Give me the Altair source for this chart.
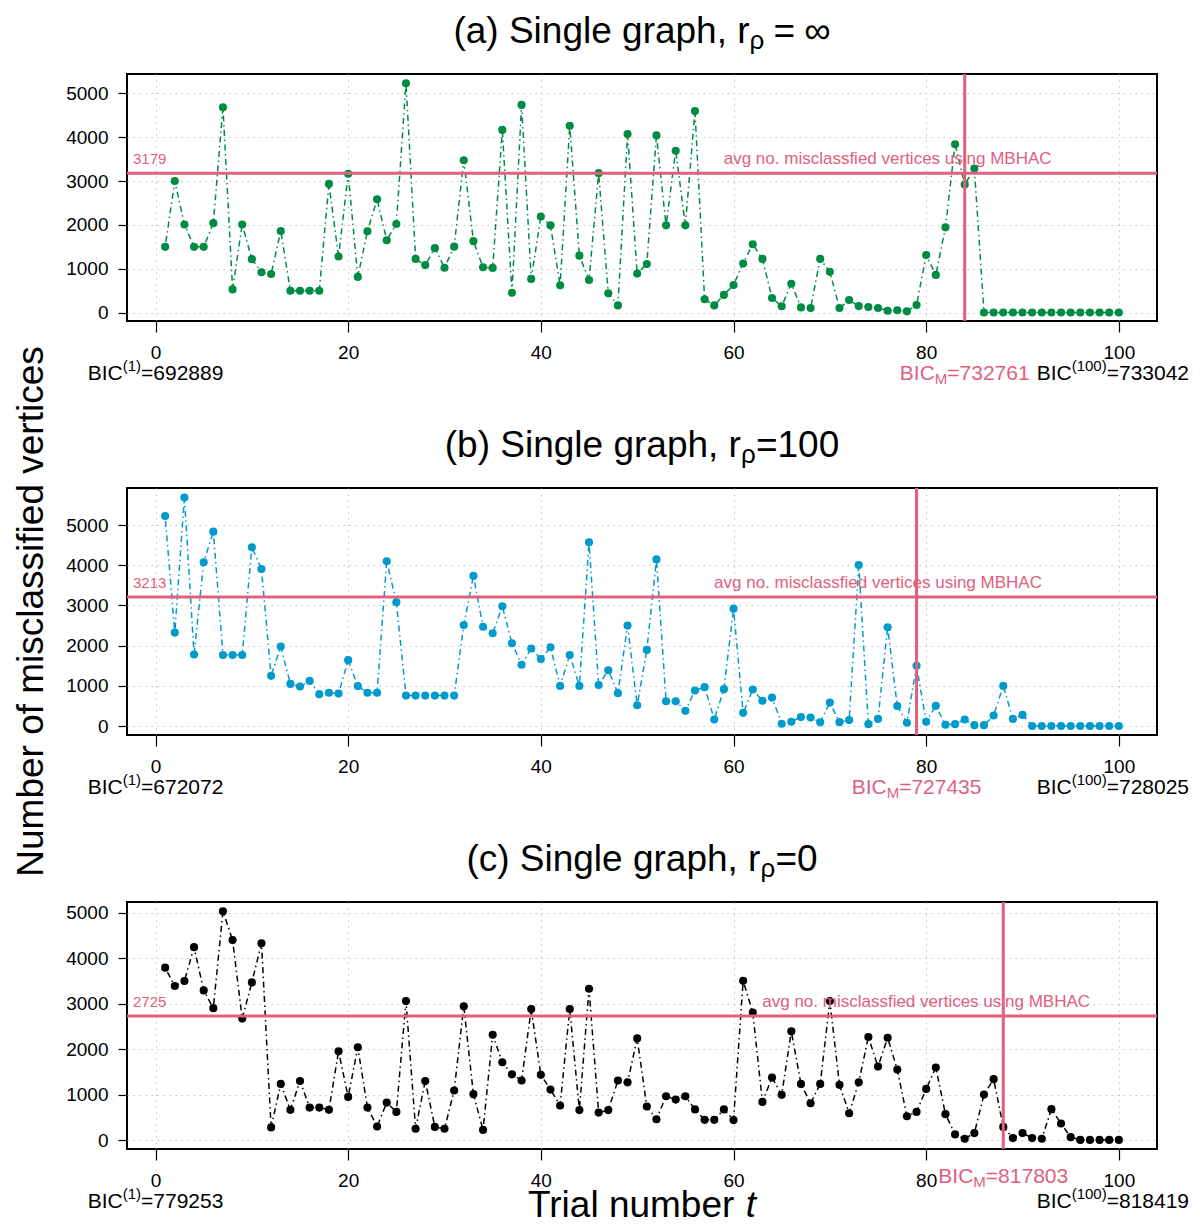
import altair as alt
import pandas as pd

# ---------------- data ----------------
trials = list(range(1, 101))

misclass_a = [1500, 3000, 2010, 1500, 1500, 2040, 4680, 530, 2010, 1220,
              920, 880, 1860, 500, 500, 500, 500, 2935, 1280, 3165,
              815, 1855, 2585, 1650, 2020, 5230, 1225, 1085, 1470, 1025,
              1505, 3475, 1630, 1035, 1020, 4165, 455, 4735, 770, 2190,
              1990, 625, 4260, 1300, 745, 3180, 440, 165, 4070, 890,
              1110, 4040, 1990, 3690, 1990, 4595, 305, 165, 405, 630,
              1120, 1560, 1225, 335, 145, 660, 120, 105, 1225, 930,
              105, 290, 150, 130, 105, 45, 55, 30, 175, 1315,
              860, 1945, 3840, 2920, 3285, 5, 5, 5, 5, 5,
              5, 5, 5, 5, 5, 5, 5, 5, 5, 5]

misclass_b = [5225, 2325, 5685, 1780, 4075, 4835, 1770, 1770, 1770, 4445,
              3905, 1250, 1980, 1050, 985, 1125, 795, 830, 810, 1640,
              995, 830, 830, 4100, 3080, 760, 760, 760, 760, 760,
              760, 2515, 3735, 2470, 2310, 2980, 2060, 1525, 1930, 1670,
              1960, 1000, 1770, 1000, 4570, 1020, 1390, 820, 2500, 520,
              1895, 4145, 620, 620, 380, 885, 970, 165, 920, 2920,
              330, 910, 630, 710, 60, 110, 225, 215, 95, 585,
              100, 150, 4005, 50, 180, 2460, 500, 85, 1500, 110,
              505, 35, 50, 165, 25, 25, 265, 1000, 180, 280,
              5, 5, 5, 5, 5, 5, 5, 5, 5, 5]

misclass_c = [3790, 3385, 3495, 4240, 3290, 2900, 5030, 4395, 2670, 3465,
              4325, 280, 1235, 665, 1300, 715, 715, 665, 1950, 950,
              2040, 715, 300, 825, 620, 3055, 250, 1300, 290, 250,
              1090, 2940, 1010, 225, 2315, 1710, 1445, 1310, 2880, 1435,
              1110, 760, 2880, 660, 3325, 605, 660, 1310, 1270, 2235,
              740, 460, 965, 890, 965, 675, 445, 445, 675, 440,
              3500, 2805, 840, 1375, 995, 2390, 1235, 810, 1235, 3055,
              1215, 590, 1270, 2265, 1615, 2250, 1550, 525, 620, 1125,
              1595, 570, 125, 30, 155, 1000, 1340, 290, 45, 155,
              45, 30, 680, 365, 65, 5, 5, 5, 5, 5]

panel_tags = ["a", "b", "c"]
avg_mbhac = [3179, 3213, 2725]
best_trial = [84, 79, 88]
avg_label_t = [76, 75, 80]
bic_first = ["692889", "672072", "779253"]
bic_best = ["732761", "727435", "817803"]
bic_last = ["733042", "728025", "818419"]
y_domains = [[-190, 5440], [-220, 5920], [-195, 5232]]
x_ticks = [0, 20, 40, 60, 80, 100]
y_ticks = [0, 1000, 2000, 3000, 4000, 5000]
series_colors = ["#008B45", "#009ACD", "#000000"]

# ---------------- style ----------------
W, H = 1030, 247
FONT = "Liberation Sans"
RED = "#E0607E"

AFM = {" ": 278, "(": 333, ")": 333, "a": 556, "b": 556, "c": 500, "S": 667,
       "i": 222, "n": 556, "g": 556, "l": 222, "e": 556, "r": 333, "p": 556,
       "h": 556, ",": 278, "=": 584, "B": 667, "I": 278, "C": 722, "M": 833,
       "\u03c1": 578, "\u221e": 713, "T": 611, "t": 278, "u": 556, "m": 833,
       "o": 556, "s": 500, "f": 278, "d": 556, "v": 500, ".": 278}


def tw(s, fs):
    return sum(AFM.get(ch, 556) for ch in s) / 1000.0 * fs


xscale = alt.Scale(domain=[-2.96, 103.96], nice=False, zero=False)
xaxis = alt.Axis(values=x_ticks, tickSize=11, labelPadding=26,
                 labelBaseline="alphabetic", labelFlush=False, title=None)


def one_row(**kw):
    return pd.DataFrame({k: [v] for k, v in kw.items()})


def rich(parts, center, ypx, X=None, shift=0.0):
    """parts: list of (text, size, dy, color, style); text None = gap of `size` px"""
    def adv(p):
        return p[1] if p[0] is None else tw(p[0], p[1])
    total = sum(adv(p) for p in parts)
    off = -total / 2.0 + shift
    layers = []
    for p in parts:
        text, fs, dy, color, style = p
        if text is None:
            off += fs
            continue
        mk = dict(text=text, fontSize=fs, dy=dy, color=color, align="left",
                  baseline="alphabetic", font=FONT, fontStyle=style)
        if X is None:
            ch = alt.Chart(one_row(t=0, n=0)).mark_text(**mk).encode(
                x=alt.value(center + off), y=alt.value(ypx))
        else:
            mk["dx"] = off
            ch = alt.Chart(one_row(t=center, n=0)).mark_text(**mk).encode(
                x=X, y=alt.value(ypx))
        layers.append(ch)
        off += tw(text, fs)
    return layers


def title_parts(i):
    head = [("(%s) Single graph, r" % panel_tags[i], 37, 0, "black", "normal"),
            ("\u03c1", 26, 6, "black", "normal")]
    if i == 0:
        tail = [(None, 9, 0, None, None), ("=", 37, 0, "black", "normal"),
                (None, 9, 0, None, None), ("\u221e", 37, 0, "black", "normal")]
    elif i == 1:
        tail = [("=100", 37, 0, "black", "normal")]
    else:
        tail = [("=0", 37, 0, "black", "normal")]
    return head + tail


def panel(i, values):
    yscale = alt.Scale(domain=y_domains[i], nice=False, zero=False)
    yaxis = alt.Axis(values=y_ticks, tickSize=9, labelPadding=10,
                     format="d", title=None)
    X = alt.X("t:Q", scale=xscale, axis=xaxis, title=None)
    Y = alt.Y("n:Q", scale=yscale, axis=yaxis, title=None)
    col = series_colors[i]
    df = pd.DataFrame({"t": trials, "n": values})

    line = alt.Chart(df).mark_line(color=col, strokeWidth=1.5,
                                   strokeDash=[1.5, 3.5, 6, 3.5]).encode(x=X, y=Y)
    pts = alt.Chart(df).mark_circle(color=col, size=66, opacity=1).encode(x=X, y=Y)
    hrule = alt.Chart(one_row(n=avg_mbhac[i])).mark_rule(
        color=RED, strokeWidth=3).encode(y=Y)
    vrule = alt.Chart(one_row(t=best_trial[i])).mark_rule(
        color=RED, strokeWidth=3).encode(x=X)
    avg_num = alt.Chart(one_row(n=avg_mbhac[i])).mark_text(
        text=str(avg_mbhac[i]), color=RED, fontSize=15, font=FONT,
        align="left", baseline="alphabetic", dy=-9).encode(
        x=alt.value(6), y=Y)
    avg_txt = alt.Chart(one_row(t=avg_label_t[i], n=avg_mbhac[i])).mark_text(
        text="avg no. misclassfied vertices using MBHAC", color=RED,
        fontSize=17, font=FONT, align="center", baseline="alphabetic",
        dy=-9).encode(x=X, y=Y)

    layers = [line, pts, hrule, vrule, avg_num, avg_txt]

    # panel title
    layers += rich(title_parts(i), W / 2, -31)

    # BIC labels
    yb = H + 59
    layers += rich([("BIC", 21, 0, "black", "normal"), ("(1)", 15, -9.5, "black", "normal"),
                    ("=" + bic_first[i], 21, 0, "black", "normal")], 0, yb, X=X)
    layers += rich([("BIC", 21, 0, "black", "normal"), ("(100)", 15, -9.5, "black", "normal"),
                    ("=" + bic_last[i], 21, 0, "black", "normal")], 100, yb, X=X,
                   shift=-6)
    ym = yb if i < 2 else H + 34
    layers += rich([("BIC", 21, 0, RED, "normal"), ("M", 15, 4, RED, "normal"),
                    ("=" + bic_best[i], 21, 0, RED, "normal")], best_trial[i], ym, X=X)

    if i == 1:
        layers.append(alt.Chart(one_row(t=0, n=0)).mark_text(
            text="Number of misclassified vertices", fontSize=37, font=FONT,
            angle=270, align="center", baseline="alphabetic", color="black").encode(
            x=alt.value(-84), y=alt.value(H / 2)))
    if i == 2:
        layers += rich([("Trial number", 37, 0, "black", "normal"),
                        (None, 10, 0, None, None),
                        ("t", 37, 0, "black", "italic")], W / 2, H + 68)

    return alt.layer(*layers).properties(width=W, height=H)


chart = alt.vconcat(panel(0, misclass_a), panel(1, misclass_b), panel(2, misclass_c),
                    spacing=167, bounds="flush").properties(
    padding={"left": 3, "top": 4, "right": 0, "bottom": 0}
).configure_view(
    stroke="black", strokeWidth=2
).configure_axis(
    grid=True, gridColor="#c4c4c4", gridDash=[1.5, 4.5], gridWidth=1,
    domain=False, tickColor="black", tickWidth=1.2,
    labelColor="black", labelFont=FONT, labelFontSize=19
)

chart.save("out.html", embed_options={"renderer": "svg", "actions": False})
